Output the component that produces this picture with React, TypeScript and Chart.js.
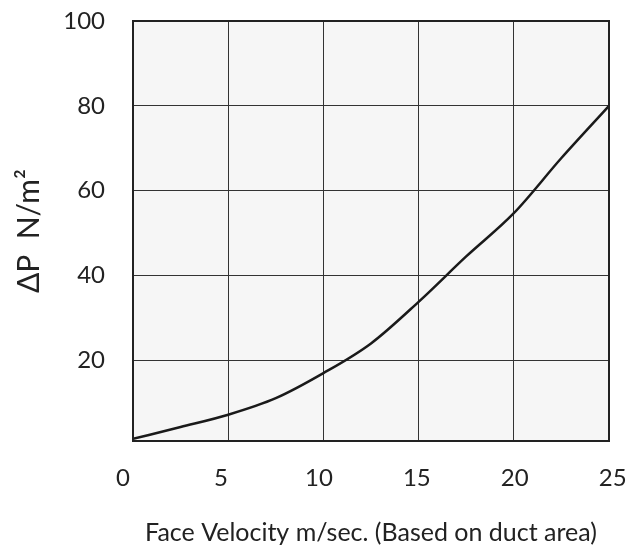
import React, { useEffect, useRef } from 'react';
import { Chart, registerables } from 'chart.js';

Chart.register(...registerables);

const velocity = [0, 2.5, 5, 7.5, 10, 12.5, 15, 17.5, 20, 22.5, 25];
const pressureDrop = [1.5, 4.3, 7.2, 11.1, 17.0, 24.0, 33.8, 44.5, 54.7, 67.7, 80];
const xTickValues = [0, 5, 10, 15, 20, 25];
const yTickValues = [20, 40, 60, 80, 100];
const xTitle = 'Face Velocity m/sec. (Based on duct area)';
const yTitle = 'ΔP  N/m²';

const FONT = 'Lato, "Noto Sans", sans-serif';

const noPad = (s: any) => {
  s.paddingLeft = 0;
  s.paddingRight = 0;
  s.paddingTop = 0;
  s.paddingBottom = 0;
};

export default function App() {
  const ref = useRef<HTMLCanvasElement | null>(null);

  useEffect(() => {
    if (!ref.current) return;
    const plotFrame = {
      id: 'plotFrame',
      beforeDraw(chart: any) {
        const { ctx, chartArea: a } = chart;
        ctx.save();
        ctx.fillStyle = '#f6f6f6';
        ctx.fillRect(a.left, a.top, a.right - a.left, a.bottom - a.top);
        ctx.restore();
      },
      afterDraw(chart: any) {
        const { ctx, chartArea: a } = chart;
        ctx.save();
        ctx.strokeStyle = '#222';
        ctx.lineWidth = 2;
        ctx.strokeRect(a.left, a.top, a.right - a.left, a.bottom - a.top);
        ctx.restore();
      },
    };
    const chart = new Chart(ref.current, {
      type: 'scatter',
      data: {
        datasets: [
          {
            data: velocity.map((v, i) => ({ x: v, y: pressureDrop[i] })),
            showLine: true,
            borderColor: '#1a1a1a',
            borderWidth: 2.5,
            pointRadius: 0,
            cubicInterpolationMode: 'monotone',
          } as any,
        ],
      },
      options: {
        animation: false,
        responsive: true,
        maintainAspectRatio: false,
        layout: { padding: { top: 21, right: 27, bottom: 0, left: 0 } },
        plugins: { legend: { display: false }, tooltip: { enabled: false } },
        scales: {
          x: {
            type: 'linear',
            position: 'bottom',
            min: 0,
            max: 25,
            ticks: { display: false, stepSize: 5 },
            grid: { color: '#333', lineWidth: 1, drawTicks: false },
            border: { display: false },
            afterFit: (s: any) => { s.height = 0; noPad(s); },
          },
          x2: {
            type: 'linear',
            position: 'bottom',
            min: 0.51,
            max: 24.81,
            afterBuildTicks: (s: any) => { s.ticks = xTickValues.map((v) => ({ value: v })); },
            ticks: {
              autoSkip: false,
              maxRotation: 0,
              padding: 23,
              color: '#222',
              font: { family: FONT, size: 24 },
              callback: (v: any) => String(v),
            },
            grid: { display: false, drawTicks: false },
            border: { display: false },
            title: {
              display: true,
              text: xTitle,
              color: '#222',
              font: { family: FONT, size: 25 },
              padding: { top: 0, bottom: 0 },
            },
            afterFit: (s: any) => { s.height = 107; noPad(s); },
          },
          y: {
            type: 'linear',
            min: 1,
            max: 100,
            afterBuildTicks: (s: any) => { s.ticks = yTickValues.map((v) => ({ value: v })); },
            ticks: {
              padding: 28,
              color: '#222',
              font: { family: FONT, size: 24 },
            },
            grid: { color: '#333', lineWidth: 1, drawTicks: false },
            border: { display: false },
            title: {
              display: true,
              text: yTitle,
              color: '#222',
              font: { family: FONT, size: 30 },
              padding: { top: 11, bottom: 0 },
            },
            afterFit: (s: any) => { s.width = 133; noPad(s); },
          },
        },
      },
      plugins: [plotFrame],
    });
    return () => chart.destroy();
  }, []);

  return (
    <div style={{ position: 'fixed', left: 0, top: 0, width: 636, height: 548, background: '#fff' }}>
      <canvas ref={ref} />
    </div>
  );
}
